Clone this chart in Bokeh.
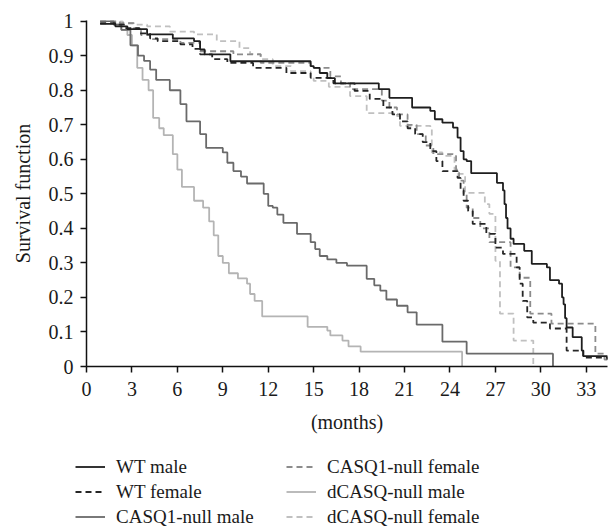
from bokeh.plotting import figure
from bokeh.models import Legend, LegendItem, FixedTicker, Range1d
from bokeh.layouts import column
from bokeh.embed import file_html
from bokeh.resources import INLINE

# ---------------- data ----------------
wt_male_t = [0.9, 1.9, 2.7, 4.0, 5.7, 7.1, 7.5, 7.8, 9.5, 14.8, 15.0, 15.4, 15.9, 16.4,
             19.3, 20.0, 21.5, 22.7, 23.0, 23.5, 24.2, 24.5, 24.7, 24.9, 25.1, 25.4,
             27.1, 27.5, 27.6, 27.7, 27.8, 28.0, 28.2, 28.9, 29.4, 30.4, 30.6, 31.2,
             31.4, 31.5, 31.6, 31.7, 32.1, 32.7, 32.8, 34.4]
wt_male_s = [0.992, 0.985, 0.977, 0.962, 0.95, 0.942, 0.918, 0.904, 0.884, 0.87, 0.865, 0.85, 0.835, 0.82,
             0.803, 0.778, 0.75, 0.74, 0.716, 0.706, 0.692, 0.663, 0.624, 0.60, 0.595, 0.56,
             0.532, 0.51, 0.47, 0.43, 0.40, 0.37, 0.355, 0.335, 0.297, 0.287, 0.25, 0.24,
             0.20, 0.18, 0.14, 0.113, 0.085, 0.046, 0.03, 0.02]

wt_female_t = [0.9, 2.0, 2.6, 3.5, 4.2, 4.7, 6.2, 7.0, 7.5, 8.3, 9.3, 11.0, 13.2, 14.8,
               16.3, 17.7, 18.7, 19.6, 20.2, 20.7, 21.2, 21.7, 22.2, 22.7, 23.1, 23.5,
               24.5, 24.7, 24.9, 25.2, 25.5, 26.4, 27.0, 27.5, 28.4, 28.6, 28.8, 29.1,
               29.5, 30.6, 31.7, 32.8, 34.4]
wt_female_s = [0.994, 0.99, 0.98, 0.965, 0.95, 0.942, 0.933, 0.92, 0.904, 0.89, 0.879, 0.865, 0.85, 0.836,
               0.82, 0.798, 0.775, 0.75, 0.73, 0.71, 0.69, 0.673, 0.65, 0.624, 0.595, 0.566,
               0.546, 0.51, 0.48, 0.45, 0.413, 0.384, 0.344, 0.326, 0.287, 0.24, 0.19, 0.142,
               0.127, 0.11, 0.046, 0.026, 0.02]

casq1_male_t = [0.9, 1.8, 2.3, 2.9, 3.4, 3.8, 4.2, 4.6, 5.5, 6.2, 6.6, 7.5, 7.9, 9.0, 9.3,
                9.7, 10.2, 10.6, 11.7, 12.0, 12.3, 12.6, 13.0, 13.9, 14.8, 15.1, 15.4, 15.9,
                16.5, 17.2, 18.5, 19.0, 19.4, 19.8, 20.5, 21.2, 21.8, 23.5, 25.1, 30.8]
casq1_male_s = [1.0, 0.99, 0.975, 0.93, 0.90, 0.885, 0.86, 0.83, 0.80, 0.76, 0.71, 0.673, 0.633, 0.62, 0.59,
                0.566, 0.55, 0.53, 0.50, 0.465, 0.46, 0.44, 0.416, 0.384, 0.36, 0.34, 0.32, 0.31,
                0.30, 0.292, 0.254, 0.235, 0.22, 0.194, 0.176, 0.157, 0.121, 0.072, 0.037, 0.0]

casq1_female_t = [0.9, 2.2, 3.1, 3.6, 4.2, 6.2, 7.5, 9.7, 11.5, 14.8, 16.1, 16.8, 17.4, 19.5,
                  20.0, 20.5, 21.2, 21.8, 22.4, 22.9, 24.2, 24.4, 24.6, 24.9, 25.1, 25.5,
                  26.0, 26.6, 28.0, 28.6, 29.3, 30.7, 33.6, 34.2, 34.4]
casq1_female_s = [1.0, 0.994, 0.98, 0.96, 0.948, 0.937, 0.913, 0.904, 0.879, 0.865, 0.84, 0.82, 0.803, 0.77,
                  0.75, 0.73, 0.70, 0.673, 0.64, 0.615, 0.61, 0.57, 0.538, 0.50, 0.46, 0.43,
                  0.40, 0.36, 0.287, 0.257, 0.153, 0.124, 0.037, 0.02, 0.02]

dcasq_male_t = [0.9, 1.8, 2.3, 2.7, 3.0, 3.35, 3.7, 4.1, 4.4, 4.8, 5.1, 5.7, 6.0, 6.3, 7.1,
                7.7, 8.1, 8.4, 8.7, 9.0, 9.4, 10.0, 10.6, 10.8, 11.1, 11.6, 14.6, 15.9, 16.1,
                16.9, 17.3, 18.1, 24.8]
dcasq_male_s = [1.0, 0.99, 0.975, 0.96, 0.93, 0.865, 0.83, 0.80, 0.72, 0.69, 0.67, 0.615, 0.57, 0.52, 0.48,
                0.46, 0.42, 0.38, 0.32, 0.30, 0.27, 0.255, 0.24, 0.21, 0.19, 0.145, 0.115, 0.104, 0.09,
                0.075, 0.058, 0.043, 0.0]

dcasq_female_t = [0.9, 2.4, 3.2, 4.0, 5.5, 7.1, 8.6, 10.1, 10.8, 11.5, 12.3, 13.5, 14.8, 15.0,
                  16.0, 17.4, 18.5, 20.5, 20.7, 22.7, 22.8, 23.5, 24.3, 24.5, 25.0, 26.3, 26.6,
                  27.0, 27.3, 28.2, 29.5]
dcasq_female_s = [1.0, 0.995, 0.99, 0.985, 0.97, 0.962, 0.942, 0.922, 0.905, 0.89, 0.87, 0.855, 0.84, 0.827,
                  0.81, 0.783, 0.734, 0.725, 0.697, 0.69, 0.62, 0.61, 0.566, 0.558, 0.503, 0.47, 0.442,
                  0.306, 0.153, 0.075, 0.0]

series_names = ["WT male", "WT female", "CASQ1-null male",
                "CASQ1-null female", "dCASQ-null male", "dCASQ-null female"]

x_ticks = [0, 3, 6, 9, 12, 15, 18, 21, 24, 27, 30, 33]
y_ticks = [0, 0.1, 0.2, 0.3, 0.4, 0.5, 0.6, 0.7, 0.8, 0.9, 1]
y_tick_labels = ["0", "0.1", "0.2", "0.3", "0.4", "0.5", "0.6", "0.7", "0.8", "0.9", "1"]

# ---------------- styles ----------------
FONT = "Liberation Serif"
TXT = "#1a1a1a"
styles = [
    dict(color="#1e1e1e", dash="solid"),
    dict(color="#262626", dash="6 4"),
    dict(color="#6a6a6a", dash="solid"),
    dict(color="#8c8c8c", dash="6 4"),
    dict(color="#b4b4b4", dash="solid"),
    dict(color="#c0c0c0", dash="6 4"),
]
LW = 1.8

data = [(wt_male_t, wt_male_s), (wt_female_t, wt_female_s),
        (casq1_male_t, casq1_male_s), (casq1_female_t, casq1_female_s),
        (dcasq_male_t, dcasq_male_s), (dcasq_female_t, dcasq_female_s)]

# ---------------- main figure ----------------
p = figure(width=608, height=448, output_backend="svg", toolbar_location=None,
           x_range=Range1d(0, 34.4), y_range=Range1d(0, 1.002),
           min_border_left=86, min_border_right=1, min_border_top=20, min_border_bottom=82)
p.outline_line_color = None
p.grid.visible = False

for i in [5, 4, 3, 2, 1, 0]:
    t, s = data[i]
    p.step(t, s, mode="after", line_color=styles[i]["color"], line_width=LW,
           line_dash=styles[i]["dash"])

for ax in (p.xaxis[0], p.yaxis[0]):
    ax.axis_line_color = "#111111"
    ax.axis_line_width = 1.5
    ax.major_tick_line_color = "#111111"
    ax.major_tick_line_width = 1.5
    ax.major_tick_in = 0
    ax.major_tick_out = 6
    ax.minor_tick_line_color = None
    ax.major_label_text_font = FONT
    ax.major_label_text_font_size = "20px"
    ax.major_label_text_color = TXT
    ax.axis_label_text_font = FONT
    ax.axis_label_text_font_size = "20px"
    ax.axis_label_text_font_style = "normal"
    ax.axis_label_text_color = TXT

p.xaxis.ticker = FixedTicker(ticks=x_ticks)
p.yaxis.ticker = FixedTicker(ticks=y_ticks)
p.yaxis.major_label_overrides = {t: l for t, l in zip(y_ticks, y_tick_labels)}
p.xaxis.axis_label = "(months)"
p.yaxis.axis_label = "Survival function"
p.xaxis.major_label_standoff = 9
p.xaxis.axis_label_standoff = 12
p.yaxis.major_label_standoff = 7
p.yaxis.axis_label_standoff = 12

# ---------------- legend figure ----------------
# the legend's sample lines come from renderers that sit outside this figure's visible range
lg = figure(width=608, height=79, output_backend="svg", toolbar_location=None,
            x_range=Range1d(100, 101), y_range=Range1d(100, 101),
            min_border_left=0, min_border_right=0, min_border_top=0, min_border_bottom=0)
lg.outline_line_color = None
lg.grid.visible = False
lg.axis.visible = False

lrs = []
for i in range(6):
    t, s = data[i]
    lrs.append(lg.step(t, s, mode="after", line_color=styles[i]["color"], line_width=LW,
                       line_dash=styles[i]["dash"]))

unaligned = "frame_align" in p.properties()
if unaligned:
    p.frame_align = False
    lg.frame_align = False
    x1, x2 = 75, 286
else:
    x1, x2 = -11, 200

def make_legend(idxs, x, y):
    return Legend(items=[LegendItem(label=series_names[i], renderers=[lrs[i]]) for i in idxs],
                  location=(x, y), orientation="vertical",
                  padding=0, margin=0, spacing=0,
                  glyph_width=30, glyph_height=25, label_height=25, label_standoff=11,
                  border_line_color=None, background_fill_alpha=0,
                  label_text_font=FONT, label_text_font_size="19px", label_text_color=TXT)

lg.add_layout(make_legend([0, 1, 2], x1, -2), "center")
lg.add_layout(make_legend([3, 4, 5], x2, -2), "center")

open("out.html", "w").write(file_html(column(p, lg, spacing=0), INLINE))
